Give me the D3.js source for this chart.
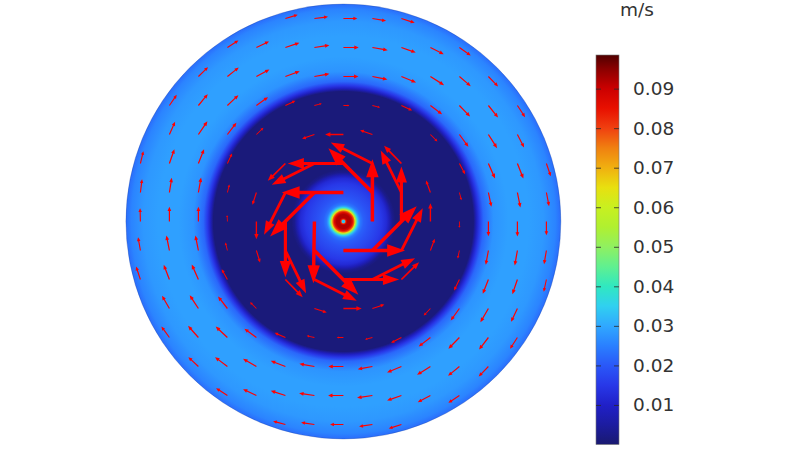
<!DOCTYPE html>
<html lang="en">
<head>
<meta charset="utf-8">
<title>Velocity field</title>
<script src="https://d3js.org/d3.v7.min.js"></script>
<style>
  html, body { margin: 0; padding: 0; background: #fff; }
  svg { display: block; }
  text { font-family: "DejaVu Sans", sans-serif; fill: #333; }
</style>
</head>
<body>
<div id="chart"></div>
<script>
// speed (m/s) against distance from the centre (in pixels of the reference, 217.5 = rim)
var profileRadius = [0, 1.3, 2.2, 3, 4, 7, 9, 10.5, 11.5, 12.5, 14, 15.5, 17, 20, 25, 32, 38, 43, 46, 49, 52, 130, 133, 136, 140, 150, 165, 185, 200, 212, 217.5];
var profileSpeed = [0.03, 0.035, 0.08, 0.088, 0.092, 0.092, 0.087, 0.078, 0.065, 0.05, 0.036, 0.028, 0.024, 0.021, 0.019, 0.017, 0.015, 0.012, 0.008, 0.003, 0.001, 0.001, 0.009, 0.015, 0.022, 0.0275, 0.029, 0.029, 0.028, 0.0255, 0.0225];

// colour table of the legend
var colourSpeed = [0, 0.005, 0.01, 0.015, 0.02, 0.025, 0.03, 0.035, 0.04, 0.045, 0.05, 0.055, 0.06, 0.065, 0.07, 0.075, 0.08, 0.085, 0.09, 0.095, 0.0985];
var colourValue = ["#191970", "#1c1ca0", "#2020c8", "#2838e8", "#2a58f8", "#2a80ff", "#30a8ff", "#30d0f0", "#30e8c0", "#60f090", "#90f060", "#b0f030", "#c8f020", "#e8e010", "#f0b010", "#f08010", "#f04010", "#e81000", "#cc0000", "#8a0000", "#500000"];

var legendTicks = [0.01, 0.02, 0.03, 0.04, 0.05, 0.06, 0.07, 0.08, 0.09];
var legendUnit = "m/s";

// arrows: grid column, grid row, horizontal and vertical component
var arrowCol = [
  1, 0, -1, 0, 1, -1, -1, 1,
  1, 0, -1, -2, -2, -2, -1, 0, 1, 2, 2, 2, 2, -2, -2, 2,
  3, 0, -3, 0, 1, -1, -3, -3, -1, 1, 3, 3, -3, 3, -3, 3,
  -1, 0, -2, -3, -4, -4, -4, -4,
  -2, -1, 0, 1, 2,
  -4, -3, -2, -1, 0, 1, 2, 3, 4,
  -5, -4, -3, -2, -1, 0, 1, 2, 3, 4, 5,
  -6, -5, -4, 1, 2, 3, 4, 5, 6,
  -6, -5, 4, 5, 6,
  -7, -6, -5, 4, 5, 6, 7,
  -7, -6, -5, 4, 5, 6, 7,
  -7, -6, -5, 4, 5, 6, 7,
  -7, -6, -5, -4, 4, 5, 6, 7,
  -7, -6, -5, -4, 4, 5, 6, 7,
  -6, -5, -4, 4, 5, 6,
  -6, -5, -4, -3, -2, -1, 0, 1, 2, 3, 4, 5, 6,
  -5, -4, -3, -2, -1, 0, 1, 2, 3, 4, 5,
  -4, -3, -2, -1, 0, 1, 2, 3, 4,
  -2, -1, 0, 1, 2
];
var arrowRow = [
  0, 1, 0, -1, 1, 1, -1, -1,
  2, 2, 2, 1, 0, -1, -2, -2, -2, -1, 0, 1, 2, 2, -2, -2,
  0, 3, 0, -3, 3, 3, 1, -1, -3, -3, -1, 1, 3, 3, -3, -3,
  4, 4, 4, 4, 3, 2, 1, 0,
  7, 7, 7, 7, 7,
  6, 6, 6, 6, 6, 6, 6, 6, 6,
  5, 5, 5, 5, 5, 5, 5, 5, 5, 5, 5,
  4, 4, 4, 4, 4, 4, 4, 4, 4,
  3, 3, 3, 3, 3,
  2, 2, 2, 2, 2, 2, 2,
  1, 1, 1, 1, 1, 1, 1,
  0, 0, 0, 0, 0, 0, 0,
  -1, -1, -1, -1, -1, -1, -1, -1,
  -2, -2, -2, -2, -2, -2, -2, -2,
  -3, -3, -3, -3, -3, -3,
  -4, -4, -4, -4, -4, -4, -4, -4, -4, -4, -4, -4, -4,
  -5, -5, -5, -5, -5, -5, -5, -5, -5, -5, -5,
  -6, -6, -6, -6, -6, -6, -6, -6, -6,
  -7, -7, -7, -7, -7
];
var arrowU = [
  0, -185, -3, 185, -132, -133, 132, 133,
  -125, -167, -128, -64, 0, 62, 127, 167, 128, 64, 0, -62, -52, -53, 52, 53,
  0, -55, 0, 55, -37, -37, -12, 11, 37, 36, 13, -13, 21, 21, -19, -20,
  22, 18, 30, 35, 27, 14, 6, -1,
  37, 41, 42, 41, 40,
  33, 38, 42, 45, 46, 46, 43, 40, 34,
  29, 34, 39, 43, 45, 45, 45, 44, 41, 34, 29,
  22, 28, 33, 23, 32, 35, 32, 29, 23,
  17, 27, 27, 26, 20,
  9, 15, 17, 17, 20, 18, 13,
  5, 7, 8, 6, 9, 9, 8,
  -1, 0, 0, 0, 0, 0, 0,
  -7, -9, -9, -6, -5, -8, -8, -7,
  -13, -17, -20, -17, -16, -17, -15, -8,
  -22, -26, -28, -26, -24, -19,
  -24, -31, -35, -36, -32, -23, -20, -22, -31, -35, -33, -28, -22,
  -30, -37, -40, -44, -45, -45, -44, -43, -40, -34, -29,
  -34, -40, -44, -46, -46, -46, -43, -38, -33,
  -37, -40, -40, -40, -38
];
var arrowV = [
  187, 0, -185, 0, 133, -132, -133, 133,
  63, 0, -64, -127, -167, -128, -64, 0, 64, 127, 165, 126, 53, -52, -53, 52,
  55, 0, -53, 0, 13, -13, -37, -36, -12, 12, 35, 36, 20, -21, 19, -21,
  6, 0, 14, 25, 35, 30, 24, 19,
  11, 5, 0, -7, -13,
  21, 18, 14, 7, 0, -8, -15, -20, -24,
  28, 27, 21, 16, 8, 0, -9, -18, -26, -29, -30,
  32, 34, 31, -6, -15, -26, -33, -36, -35,
  38, 40, -37, -41, -39,
  37, 43, 43, -32, -45, -45, -38,
  40, 44, 45, -23, -43, -45, -41,
  40, 44, 44, -19, -44, -45, -41,
  40, 45, 45, 24, -24, -43, -45, -41,
  39, 44, 45, 31, -33, -43, -44, -37,
  38, 40, 36, -36, -41, -40,
  33, 35, 33, 26, 14, 5, 0, -6, -16, -27, -34, -36, -34,
  28, 28, 23, 17, 8, 0, -8, -18, -25, -28, -30,
  22, 19, 14, 7, 0, -7, -15, -20, -22,
  10, 6, 0, -6, -12
];

var width = 797, height = 449;
var centre = {x: 343.4, y: 221.5};
var cell = 29;
var rim = 217.5;

var svg = d3.select("#chart").append("svg")
    .attr("width", width)
    .attr("height", height);

var defs = svg.append("defs");

// the reference is a slightly soft raster, arrows get a touch of blur
defs.append("filter")
    .attr("id", "soft")
    .append("feGaussianBlur")
    .attr("stdDeviation", 0.2);

var x = d3.scaleLinear().domain([-7, 7]).range([centre.x - 7 * cell, centre.x + 7 * cell]);
var y = d3.scaleLinear().domain([-7, 7]).range([centre.y + 7 * cell, centre.y - 7 * cell]);
// arrow components were read as 87 units per grid cell
var arrowLen = d3.scaleLinear().domain([0, 87]).range([0, cell]);

var colour = d3.scaleLinear().domain(colourSpeed).range(colourValue);

// field: radial gradient from the speed profile
var fieldGrad = defs.append("radialGradient")
    .attr("id", "field")
    .attr("gradientUnits", "userSpaceOnUse")
    .attr("cx", centre.x).attr("cy", centre.y)
    .attr("fx", centre.x).attr("fy", centre.y)
    .attr("r", rim);

fieldGrad.selectAll("stop")
    .data(profileRadius)
    .enter().append("stop")
    .attr("offset", function(d) { return d / rim; })
    .attr("stop-color", function(d, i) { return colour(profileSpeed[i]); });

svg.append("circle")
    .attr("cx", centre.x).attr("cy", centre.y)
    .attr("r", rim)
    .attr("fill", "url(#field)")
    .attr("stroke", "#1d3f86")
    .attr("stroke-opacity", 0.45)
    .attr("stroke-width", 0.6);

// arrows, head and shaft scale with the length like in the original
function arrowPath(i) {
  var x0 = x(arrowCol[i]), y0 = y(arrowRow[i]);
  var dx = arrowLen(arrowU[i]), dy = -arrowLen(arrowV[i]);
  var len = Math.sqrt(dx * dx + dy * dy);
  if (len == 0) return "";
  var ux = dx / len, uy = dy / len;
  var shaft = 0.25 + len * 0.024, headW = 0.5 + len * 0.092, headL = len * 0.29;
  var bx = x0 + ux * (len - headL), by = y0 + uy * (len - headL);
  var pts = [
    [x0 - uy * shaft, y0 + ux * shaft],
    [bx - uy * shaft, by + ux * shaft],
    [bx - uy * headW, by + ux * headW],
    [x0 + dx, y0 + dy],
    [bx + uy * headW, by - ux * headW],
    [bx + uy * shaft, by - ux * shaft],
    [x0 + uy * shaft, y0 - ux * shaft]
  ];
  return d3.line()(pts) + "Z";
}

svg.append("g")
    .attr("filter", "url(#soft)")
    .selectAll("path")
    .data(d3.range(arrowCol.length))
    .enter().append("path")
    .attr("d", arrowPath)
    .attr("fill", "#ff0000");

// colour legend
var barLeft = 596, barRight = 619, barTop = 55, barBottom = 444.5;
var legendY = d3.scaleLinear().domain([0, 0.0985]).range([barBottom, barTop]);

var barGrad = defs.append("linearGradient")
    .attr("id", "bar")
    .attr("x1", 0).attr("y1", 1)
    .attr("x2", 0).attr("y2", 0);

barGrad.selectAll("stop")
    .data(colourSpeed)
    .enter().append("stop")
    .attr("offset", function(d) { return d / 0.0985; })
    .attr("stop-color", function(d) { return colour(d); });

svg.append("rect")
    .attr("x", barLeft).attr("y", barTop)
    .attr("width", barRight - barLeft).attr("height", barBottom - barTop)
    .attr("fill", "url(#bar)")
    .attr("stroke", "#777")
    .attr("stroke-width", 0.6);

var axisRight = svg.append("g")
    .attr("transform", "translate(" + barRight + ",0)")
    .call(d3.axisRight(legendY)
      .tickValues(legendTicks)
      .tickSize(-5)
      .tickPadding(14)
      .tickFormat(d3.format(".2f")));
axisRight.select(".domain").remove();
axisRight.selectAll("line").attr("stroke", "#2a2a2a").attr("stroke-opacity", 0.8);
axisRight.selectAll("text")
    .attr("font-size", 18.5)
    .attr("font-family", '"DejaVu Sans", sans-serif')
    .attr("fill", "#333");

var axisLeft = svg.append("g")
    .attr("transform", "translate(" + barLeft + ",0)")
    .call(d3.axisRight(legendY)
      .tickValues(legendTicks)
      .tickSize(5)
      .tickFormat(""));
axisLeft.select(".domain").remove();
axisLeft.selectAll("line").attr("stroke", "#2a2a2a").attr("stroke-opacity", 0.8);

svg.append("text")
    .attr("x", 637)
    .attr("y", 16)
    .attr("text-anchor", "middle")
    .attr("font-size", 18.5)
    .text(legendUnit);
</script>
</body>
</html>
